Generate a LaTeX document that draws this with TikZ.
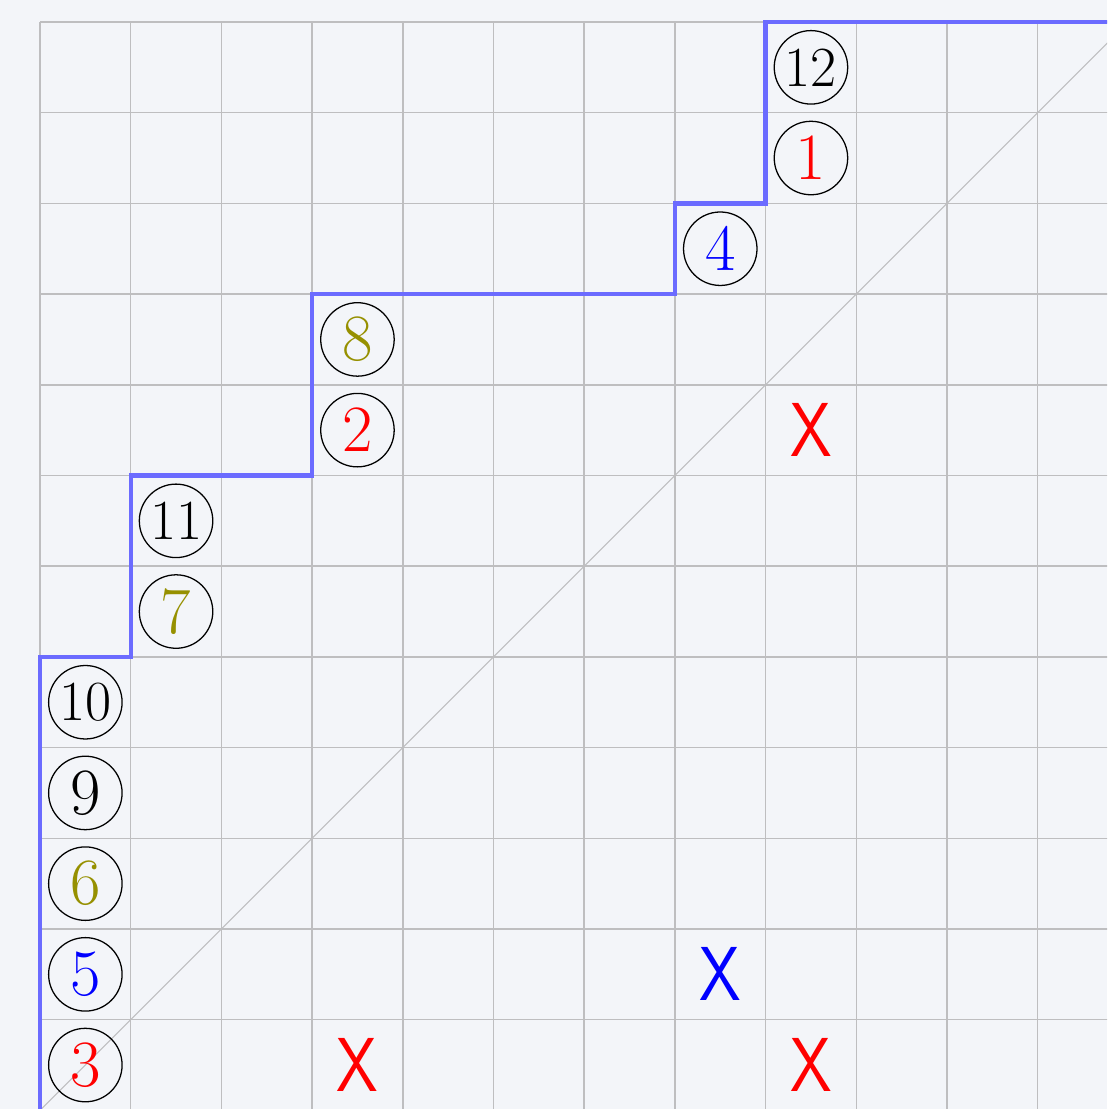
\documentclass[tikz,border=0pt]{standalone}
\usepackage{tikz}
\definecolor{bgc}{RGB}{243,245,249}
\definecolor{gridc}{RGB}{190,190,192}
\definecolor{pathc}{RGB}{107,107,255}
\definecolor{oliv}{RGB}{150,144,0}
\tikzset{
  num/.style={circle,draw=black,line width=0.4pt,minimum size=0.81cm,inner sep=0pt,
    font=\fontsize{20.74}{24}\selectfont},
  numtwo/.style={num,font=\fontsize{17.8}{21}\selectfont},
  xmark/.style={inner sep=0pt,font=\fontsize{24}{28}\sffamily\selectfont,xscale=0.87},
  gridline/.style={draw=gridc,line width=0.45pt},
  diag/.style={draw=gridc,line width=0.35pt},
  stair/.style={draw=pathc,line width=1.35pt}
}
\begin{document}
\begin{tikzpicture}
\useasboundingbox (-0.441,0.0155) rectangle (11.764,12.2426);
\fill[bgc] (-0.441,0.0155) rectangle (11.764,12.2426);
\clip (-0.441,0.0155) rectangle (11.764,12.2426);
\foreach \i in {0,...,12} {
  \draw[gridline] (\i,0) -- (\i,12);
  \draw[gridline] (0,\i) -- (12.5,\i);
}
\draw[diag] (0,0) -- (12.5,12.5);
\draw[stair] (0,0) -- (0,5) -- (1,5) -- (1,7) -- (3,7) -- (3,9) -- (7,9) -- (7,10) -- (8,10) -- (8,12) -- (12.5,12);
% circled numbers
\node[num,text=red]  (n3)  at (0.5,0.5) {3};
\node[num,text=blue] (n5)  at (0.5,1.5) {5};
\node[num,text=oliv] (n6)  at (0.5,2.5) {6};
\node[num]           (n9)  at (0.5,3.5) {9};
\node[numtwo]        (n10) at (0.5,4.5) {10};
\node[num,text=oliv] (n7)  at (1.5,5.5) {7};
\node[numtwo]        (n11) at (1.5,6.5) {11};
\node[num,text=red]  (n2)  at (3.5,7.5) {2};
\node[num,text=oliv] (n8)  at (3.5,8.5) {8};
\node[num,text=blue] (n4)  at (7.5,9.5) {4};
\node[num,text=red]  (n1)  at (8.5,10.5) {1};
\node[numtwo]        (n12) at (8.5,11.5) {12};
% crosses
\node[xmark,text=red]  (x1) at (3.5,0.5) {X};
\node[xmark,text=blue] (x2) at (7.5,1.5) {X};
\node[xmark,text=red]  (x3) at (8.5,0.5) {X};
\node[xmark,text=red]  (x4) at (8.5,7.5) {X};
\end{tikzpicture}
\end{document}
